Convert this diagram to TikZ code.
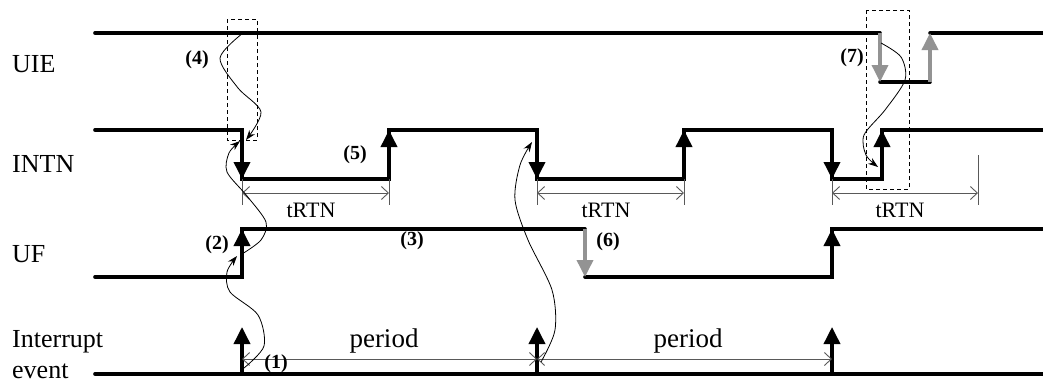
\documentclass[tikz,border=0pt]{standalone}
\usepackage{fontspec}
\setmainfont{Liberation Serif}
\usetikzlibrary{arrows.meta}
\begin{document}
\begin{tikzpicture}[x=1pt,y=-1pt,
  sig/.style={line width=3.6pt,line cap=round,line join=miter},
  edgeblk/.style={line width=3.6pt,-{Triangle[length=17pt,width=16pt]}},
  edgegray/.style={line width=3.6pt,gray!85,-{Triangle[length=17pt,width=16pt]}},
  dim/.style={line width=0.9pt,black!65,{Straight Barb[length=7pt,width=13pt]}-{Straight Barb[length=7pt,width=13pt]}},
  tick/.style={line width=0.9pt,black!65},
  cause/.style={line width=0.8pt,-{Stealth[length=10pt,width=7pt]}},
  dbox/.style={line width=0.8pt,dash pattern=on 4pt off 3pt},
  lab/.style={font=\fontsize{26}{30}\selectfont,anchor=base west,inner sep=0pt},
  per/.style={font=\fontsize{27}{30}\selectfont,inner sep=0pt},
  rtn/.style={font=\fontsize{22}{24}\selectfont,inner sep=0pt},
  num/.style={font=\fontsize{20}{22}\selectfont\bfseries,inner sep=0pt}]
\useasboundingbox (0,0) rectangle (1043,383);

% ---- row labels
\node[lab] (lUIE) at (12,72) {UIE};
\node[lab] (lINTN) at (12,172) {INTN};
\node[lab] (lUF) at (12,262) {UF};
\node[lab] (lInt) at (12,347) {Interrupt};
\node[lab] (lEv) at (12,378) {event};

% ---- UIE
\draw[sig] (95,33) -- (880,33);
\draw[sig] (880,82) -- (930,82);
\draw[sig] (930,33) -- (1043,33);
\draw[edgegray] (880,33) -- (880,82);
\draw[edgegray] (930,82) -- (930,33);

% ---- INTN
\draw[sig] (95,130) -- (242,130) -- (242,179) -- (389,179) -- (389,130) -- (537,130)
  -- (537,179) -- (684,179) -- (684,130) -- (832,130) -- (832,179) -- (882,179)
  -- (882,130) -- (1043,130);
\draw[edgeblk] (242,130) -- (242,179);
\draw[edgeblk] (389,179) -- (389,130);
\draw[edgeblk] (537,130) -- (537,179);
\draw[edgeblk] (684,179) -- (684,130);
\draw[edgeblk] (832,130) -- (832,179);
\draw[edgeblk] (882,179) -- (882,130);

% ---- UF
\draw[sig] (95,277) -- (242,277) -- (242,229) -- (585,229);
\draw[sig] (585,277) -- (832,277) -- (832,229) -- (1043,229);
\draw[edgeblk] (242,277) -- (242,229);
\draw[edgegray] (585,229) -- (585,277);
\draw[edgeblk] (832,277) -- (832,229);

% ---- Interrupt event
\draw[sig] (95,374) -- (1043,374);
\draw[edgeblk] (242,374) -- (242,327);
\draw[edgeblk] (537,374) -- (537,327);
\draw[edgeblk] (832,374) -- (832,327);

% ---- tRTN dimensions
\draw[tick] (242,179) -- (242,205);
\draw[tick] (389,179) -- (389,205);
\draw[tick] (537,179) -- (537,205);
\draw[tick] (684,179) -- (684,205);
\draw[tick] (832,179) -- (832,205);
\draw[tick] (978,155) -- (978,205);
\coordinate (r1a) at (242,193); \coordinate (r1b) at (389,193);
\coordinate (r2a) at (537,193); \coordinate (r2b) at (684,193);
\coordinate (r3a) at (832,193); \coordinate (r3b) at (978,193);
\draw[dim] (r1a) -- (r1b);
\draw[dim] (r2a) -- (r2b);
\draw[dim] (r3a) -- (r3b);
\node[rtn] (t1) at (311,210) {tRTN};
\node[rtn] (t2) at (606,210) {tRTN};
\node[rtn] (t3) at (900,210) {tRTN};

% ---- period dimensions
\coordinate (p1) at (242,359); \coordinate (p2) at (537,359); \coordinate (p3) at (832,359);
\draw[dim] (p1) -- (p2);
\draw[dim] (p2) -- (p3);
\node[per] (per1) at (384,341) {period};
\node[per] (per2) at (688,341) {period};

% ---- dashed boxes
\draw[dbox] (227,19) rectangle (257,140);
\draw[dbox] (866,10) rectangle (909,189);

% ---- causal curves
\draw[cause] plot[smooth] coordinates {(243,33) (220,58) (238,88) (261,112) (246,140)};
\draw[cause] plot[smooth] coordinates {(244,368) (264,346) (258,315) (230,292) (227,272) (237,256)};
\draw[cause] plot[smooth] coordinates {(242,254) (261,240) (266,222) (247,196) (227,172) (229,153) (240,141)};
\draw[cause] plot[smooth] coordinates {(541,362) (555,330) (552,290) (528,240) (515,200) (520,165) (532,142)};
\draw[cause] plot[smooth] coordinates {(881,43) (901,57) (905,80) (885,110) (864,135) (866,155) (878,167)};

% ---- step numbers
\node[num] (n1) at (276,364) {(1)};
\node[num] (n2) at (217,245) {(2)};
\node[num] (n3) at (412,241) {(3)};
\node[num] (n4) at (197,60) {(4)};
\node[num] (n5) at (355,155) {(5)};
\node[num] (n6) at (608,242) {(6)};
\node[num] (n7) at (852,58) {(7)};
\end{tikzpicture}
\end{document}
